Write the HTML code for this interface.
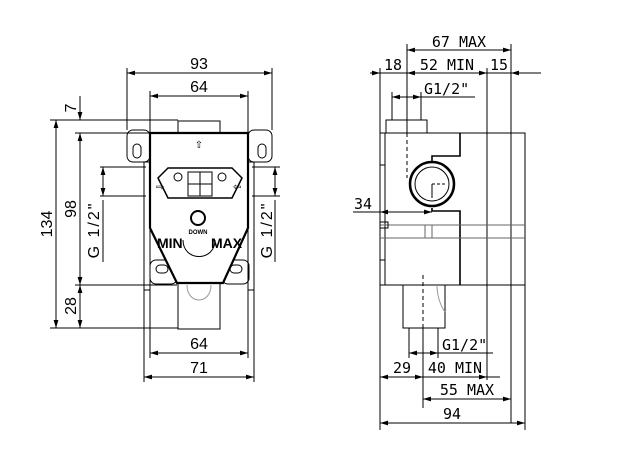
<!DOCTYPE html>
<html><head><style>
html,body{margin:0;padding:0;background:#fff;}
svg{display:block;}
text{font-family:"Liberation Sans",sans-serif;font-size:16px;fill:#000;}
.t{font-family:"DejaVu Sans Mono","Liberation Mono",monospace;font-size:15px;}
</style></head><body>
<svg width="619" height="464" viewBox="0 0 619 464" xmlns="http://www.w3.org/2000/svg">
<defs>
<marker id="a" viewBox="0 0 10 6" refX="10" refY="3" markerWidth="8" markerHeight="5" orient="auto-start-reverse"><path d="M0,0L10,3L0,6z" fill="#000"/></marker>
</defs>
<g stroke="#000" stroke-width="1" fill="none">
<line x1="127" y1="73" x2="272" y2="73" marker-start="url(#a)" marker-end="url(#a)"/>
<line x1="127" y1="68" x2="127" y2="130"/><line x1="272" y1="68" x2="272" y2="130"/>
<line x1="150" y1="96" x2="248" y2="96" marker-start="url(#a)" marker-end="url(#a)"/>
<line x1="150" y1="91" x2="150" y2="133"/><line x1="248" y1="91" x2="248" y2="133"/>
<line x1="50" y1="120" x2="178" y2="120"/>
<line x1="75" y1="133" x2="150" y2="133"/>
<line x1="75" y1="285" x2="177" y2="285"/>
<line x1="50" y1="328" x2="178" y2="328"/>
<line x1="56" y1="120" x2="56" y2="328" marker-start="url(#a)" marker-end="url(#a)"/>
<line x1="80" y1="96" x2="80" y2="120" marker-end="url(#a)"/>
<line x1="80" y1="133" x2="80" y2="285" marker-start="url(#a)" marker-end="url(#a)"/>
<line x1="80" y1="285" x2="80" y2="328" marker-start="url(#a)" marker-end="url(#a)"/>
<line x1="103" y1="167" x2="103" y2="196" marker-start="url(#a)" marker-end="url(#a)"/>
<line x1="100" y1="167" x2="146" y2="167"/><line x1="100" y1="196" x2="146" y2="196"/>
<line x1="103" y1="200" x2="103" y2="262"/>
<line x1="275" y1="167" x2="275" y2="196" marker-start="url(#a)" marker-end="url(#a)"/>
<line x1="252" y1="167" x2="280" y2="167"/><line x1="252" y1="196" x2="280" y2="196"/>
<line x1="275" y1="200" x2="275" y2="262"/>
<line x1="150" y1="283" x2="150" y2="358"/><line x1="248" y1="283" x2="248" y2="358"/>
<line x1="150" y1="353" x2="248" y2="353" marker-start="url(#a)" marker-end="url(#a)"/>
<line x1="144" y1="290" x2="144" y2="382"/><line x1="254" y1="290" x2="254" y2="382"/>
<line x1="144" y1="377" x2="254" y2="377" marker-start="url(#a)" marker-end="url(#a)"/>
<rect x="178" y="121" width="42" height="12"/>
<rect x="178" y="283" width="42" height="46"/>
<rect x="144" y="162" width="6" height="128"/><rect x="248" y="162" width="6" height="128"/>
<rect x="127" y="130" width="23" height="32" rx="6"/>
<rect x="248" y="130" width="24" height="32" rx="6"/>
<rect x="133" y="144" width="8" height="14" rx="4"/><rect x="258" y="144" width="8" height="14" rx="4"/>
<rect x="150" y="260" width="27" height="24" rx="6"/><rect x="222" y="260" width="27" height="24" rx="6"/>
<rect x="156" y="265" width="12" height="8" rx="4"/><rect x="230" y="265" width="12" height="8" rx="4"/>
<path d="M150,133H248V228L223,283H177L150,228Z" fill="#fff" stroke-width="2.2"/>
<path d="M168,168h64l10,10l-10,20h-64l-10-20z" stroke-width="1.5"/>
<circle cx="178" cy="177" r="4"/><circle cx="222" cy="177" r="4"/>
<rect x="188" y="172" width="24" height="24"/>
<line x1="200" y1="172" x2="200" y2="196"/><line x1="188" y1="184" x2="212" y2="184"/>
<circle cx="198" cy="218" r="7" stroke-width="2"/>
<path d="M183,240 C183,262 215,262 215,240" />
<path d="M187,285 C187,305 211,305 211,285" stroke="#999"/>
<line x1="407" y1="50" x2="511" y2="50" marker-start="url(#a)" marker-end="url(#a)"/>
<line x1="407" y1="44" x2="407" y2="133"/><line x1="511" y1="44" x2="511" y2="423"/>
<line x1="370" y1="73" x2="380" y2="73" marker-end="url(#a)"/>
<line x1="380" y1="73" x2="541" y2="73"/>
<line x1="407" y1="73" x2="487" y2="73" marker-start="url(#a)" marker-end="url(#a)"/>
<line x1="511" y1="73" x2="530" y2="73" marker-start="url(#a)"/>
<line x1="380" y1="68" x2="380" y2="430"/><line x1="487" y1="68" x2="487" y2="380"/>
<line x1="392" y1="97" x2="421" y2="97" marker-start="url(#a)" marker-end="url(#a)"/>
<line x1="421" y1="97" x2="475" y2="97"/>
<line x1="392" y1="92" x2="392" y2="120"/><line x1="421" y1="92" x2="421" y2="120"/>
<rect x="386" y="120" width="41" height="13"/>
<rect x="380" y="133" width="145" height="152"/>
<line x1="385" y1="133" x2="385" y2="285"/>
<rect x="380" y="133" width="5" height="32"/><rect x="380" y="260" width="5" height="25"/>
<path d="M460,133V156H432V162M432,208V211H460V285" stroke-width="1.6"/>
<circle cx="432" cy="184" r="22" stroke-width="2.5"/><circle cx="432" cy="184" r="17"/>
<line x1="432" y1="184" x2="446" y2="184" stroke-dasharray="3,2"/><line x1="432" y1="184" x2="432" y2="198"/>
<line x1="407" y1="133" x2="407" y2="178" stroke-dasharray="4,3"/>
<line x1="423" y1="275" x2="423" y2="328" stroke-dasharray="4,3"/>
<line x1="353" y1="212" x2="380" y2="212"/>
<line x1="380" y1="212" x2="432" y2="212" marker-start="url(#a)" marker-end="url(#a)"/>
<line x1="380" y1="225" x2="525" y2="225" stroke="#666"/><line x1="380" y1="238" x2="525" y2="238" stroke="#666"/>
<line x1="425" y1="225" x2="425" y2="238" stroke="#666"/><line x1="432" y1="225" x2="432" y2="238" stroke="#666"/>
<rect x="380" y="222" width="8" height="6"/>
<rect x="403" y="285" width="42" height="43"/>
<path d="M437,285C437,295 440,305 445,312" stroke="#999"/>
<line x1="409" y1="328" x2="409" y2="358"/><line x1="438" y1="328" x2="438" y2="358"/>
<line x1="409" y1="353" x2="438" y2="353" marker-start="url(#a)" marker-end="url(#a)"/>
<line x1="438" y1="353" x2="493" y2="353"/>
<line x1="423" y1="328" x2="423" y2="408"/>
<line x1="380" y1="377" x2="423" y2="377" marker-start="url(#a)" marker-end="url(#a)"/>
<line x1="423" y1="377" x2="487" y2="377" marker-end="url(#a)"/>
<line x1="487" y1="377" x2="500" y2="377"/>
<line x1="423" y1="399" x2="511" y2="399" marker-start="url(#a)" marker-end="url(#a)"/>
<line x1="525" y1="285" x2="525" y2="430"/>
<line x1="380" y1="423" x2="525" y2="423" marker-start="url(#a)" marker-end="url(#a)"/>
</g>
<g>
<text x="199" y="69" text-anchor="middle">93</text>
<text x="199" y="92" text-anchor="middle">64</text>
<text x="199" y="349" text-anchor="middle">64</text>
<text x="199" y="373" text-anchor="middle">71</text>
<text transform="translate(52,224) rotate(-90)" text-anchor="middle">134</text>
<text transform="translate(76,209) rotate(-90)" text-anchor="middle">98</text>
<text transform="translate(76,108) rotate(-90)" text-anchor="middle">7</text>
<text transform="translate(76,306) rotate(-90)" text-anchor="middle">28</text>
<text transform="translate(99,230) rotate(-90)" text-anchor="middle" style="letter-spacing:2px">G 1/2"</text>
<text transform="translate(272,230) rotate(-90)" text-anchor="middle" style="letter-spacing:2px">G 1/2"</text>
<text x="157" y="248" style="font-size:14px;font-weight:bold">MIN</text>
<text x="211" y="248" style="font-size:14px;font-weight:bold">MAX</text>
<text x="198" y="234" text-anchor="middle" style="font-size:6px;font-weight:bold">DOWN</text>
<text x="199" y="148" text-anchor="middle" style="font-size:10px">⇧</text>
<text x="156" y="190" style="font-size:10px">⇨</text><text x="233" y="190" style="font-size:10px">⇦</text>
<text class="t" x="459" y="47" text-anchor="middle">67 MAX</text>
<text class="t" x="393" y="70" text-anchor="middle">18</text>
<text class="t" x="447" y="70" text-anchor="middle">52 MIN</text>
<text class="t" x="499" y="70" text-anchor="middle">15</text>
<text class="t" x="424" y="94">G1/2"</text>
<text class="t" x="354" y="209">34</text>
<text class="t" x="442" y="350">G1/2"</text>
<text class="t" x="402" y="373" text-anchor="middle">29</text>
<text class="t" x="455" y="373" text-anchor="middle">40 MIN</text>
<text class="t" x="467" y="395" text-anchor="middle">55 MAX</text>
<text class="t" x="452" y="419" text-anchor="middle">94</text>
</g>
</svg>
</body></html>
